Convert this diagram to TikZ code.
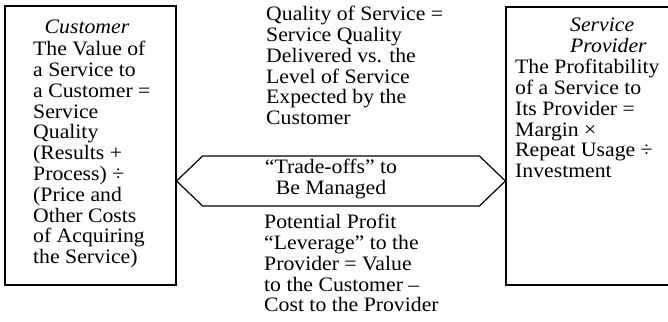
\documentclass[tikz,border=0pt]{standalone}
\usepackage{fontspec}
\setmainfont{Liberation Serif}[FakeStretch=1.06]
\usepackage{tikz}
\usetikzlibrary{calc}

\begin{document}
\begin{tikzpicture}[x=1pt,y=1pt,
    font=\fontsize{20.5}{20.8}\selectfont,
    box/.style={draw,line width=1.2pt,inner sep=0pt},
    txt/.style={align=left,inner sep=0pt,anchor=north west}]
  \useasboundingbox (0,0) rectangle (668,321);
  \clip (0,0) rectangle (668,321);
  % the two parties
  \node[box,minimum width=171,minimum height=279] (cust) at (90.5,175.5) {};
  \node[box,minimum width=184,minimum height=278] (prov) at (598,175) {};
  \node[anchor=base,inner sep=0pt,font=\fontsize{20.5}{20.8}\selectfont\itshape] (custhead) at (87,287) {Customer};
  \node[txt] (custtxt) at (33,280) {The Value of\\a Service to\\a Customer =\\Service\\Quality\\(Results +\\Process) ÷\\(Price and\\Other Costs\\of Acquiring\\the Service)};
  \node[txt,font=\fontsize{20.5}{20.8}\selectfont\itshape] (provhead) at (570,303) {Service\\Provider};
  \node[txt] (provtxt) at (515,262) {The Profitability\\of a Service to\\Its Provider =\\Margin ×\\Repeat Usage ÷\\Investment};
  % what lies between them
  \node[txt] (qual) at (266,315) {Quality of Service =\\Service Quality\\Delivered vs. the\\Level of Service\\Expected by the\\Customer};
  \node[align=center,inner sep=0pt] (trade) at (331,142) {“Trade-offs” to\\Be Managed};
  \node[txt] (lever) at (264,107) {Potential Profit\\“Leverage” to the\\Provider = Value\\to the Customer –\\Cost to the Provider};
  \coordinate (tipL) at (cust.east |- 0,140);
  \coordinate (tipR) at (prov.west |- 0,140);
  \draw[line width=1.2pt,line join=miter] (tipL) -- ++(26,25) -- ($(tipR)+(-26,25)$) -- (tipR)
    -- ++(-26,-25) -- ($(tipL)+(26,-25)$) -- cycle;
\end{tikzpicture}
\end{document}
